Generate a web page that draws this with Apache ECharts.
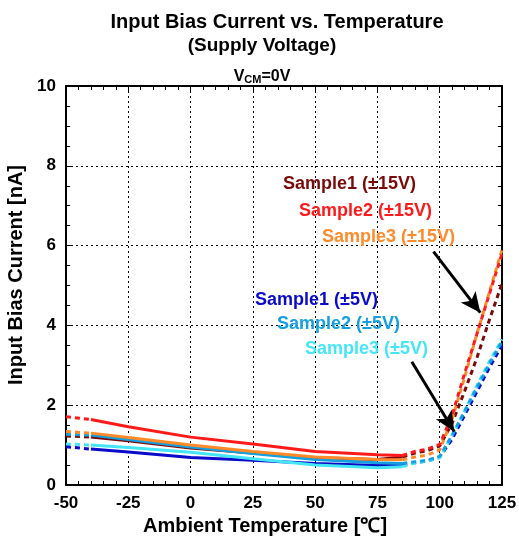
<!DOCTYPE html>
<html>
<head>
<meta charset="utf-8">
<script src="https://cdn.jsdelivr.net/npm/echarts@6/dist/echarts.min.js"></script>
<style>
  html, body { margin: 0; padding: 0; background: #fff; }
  #chart { width: 519px; height: 538px; }
</style>
</head>
<body>
<div id="chart"></div>
<script>
// temperatures (°C)
const tempsMid = [-40, -25, 0, 25, 50, 75, 85];
const tempsCold = [-50, -40];
const tempsHot = [85, 90, 95, 100, 105, 110, 115, 120, 125];

// input bias current (nA)
const s1_15_cold = [1.23, 1.20];
const s1_15_mid = [1.20, 1.11, 0.93, 0.80, 0.68, 0.64, 0.70];
const s1_15_hot = [0.70, 0.80, 0.86, 0.98, 1.55, 2.35, 3.20, 4.15, 5.05];

const s2_15_cold = [1.71, 1.64];
const s2_15_mid = [1.64, 1.46, 1.20, 1.03, 0.84, 0.76, 0.74];
const s2_15_hot = [0.74, 0.84, 0.90, 1.02, 1.75, 2.80, 3.80, 4.80, 5.80];

const s3_15_cold = [1.34, 1.30];
const s3_15_mid = [1.30, 1.19, 1.00, 0.84, 0.70, 0.64, 0.63];
const s3_15_hot = [0.63, 0.70, 0.75, 0.88, 1.65, 2.70, 3.80, 4.85, 5.90];

const s1_5_cold = [0.96, 0.90];
const s1_5_mid = [0.90, 0.83, 0.69, 0.62, 0.54, 0.49, 0.50];
const s1_5_hot = [0.50, 0.56, 0.60, 0.70, 1.15, 1.75, 2.35, 2.95, 3.50];

const s2_5_cold = [1.27, 1.25];
const s2_5_mid = [1.25, 1.14, 0.95, 0.79, 0.64, 0.56, 0.54];
const s2_5_hot = [0.54, 0.58, 0.62, 0.72, 1.25, 1.85, 2.45, 3.05, 3.60];

const s3_5_cold = [1.03, 1.00];
const s3_5_mid = [1.00, 0.94, 0.82, 0.66, 0.50, 0.43, 0.46];
const s3_5_hot = [0.46, 0.55, 0.60, 0.68, 1.25, 1.85, 2.50, 3.10, 3.65];

const xTicks = [-50, -25, 0, 25, 50, 75, 100, 125];
const yTicks = [0, 2, 4, 6, 8, 10];

// arrows: [from, to] in data coordinates
const arrow15 = [[97.5, 5.85], [116.3, 4.32]];
const arrow5 = [[88.8, 3.09], [105.8, 1.34]];

const samples = [
  { name: 'Sample1 (±15V)', color: '#7a0a0a', cold: s1_15_cold, mid: s1_15_mid, hot: s1_15_hot },
  { name: 'Sample1 (±5V)', color: '#0a0ac8', cold: s1_5_cold, mid: s1_5_mid, hot: s1_5_hot },
  { name: 'Sample3 (±5V)', color: '#44e6f6', cold: s3_5_cold, mid: s3_5_mid, hot: s3_5_hot },
  { name: 'Sample2 (±5V)', color: '#14a0e0', cold: s2_5_cold, mid: s2_5_mid, hot: s2_5_hot },
  { name: 'Sample3 (±15V)', color: '#ff8a2a', cold: s3_15_cold, mid: s3_15_mid, hot: s3_15_hot },
  { name: 'Sample2 (±15V)', color: '#ff1a1a', cold: s2_15_cold, mid: s2_15_mid, hot: s2_15_hot }
];

const zip = (xs, ys) => xs.map((x, i) => [x, ys[i]]);

const FONT = '"Liberation Sans", Arial, sans-serif';

const series = [];
samples.forEach((s) => {
  const base = { type: 'line', symbol: 'none', silent: true, z: 3 };
  series.push({ ...base, name: s.name, data: zip(tempsMid, s.mid),
    lineStyle: { color: s.color, width: 3 } });
  series.push({ ...base, data: zip(tempsCold, s.cold),
    lineStyle: { color: s.color, width: 3, type: [5, 4] } });
  series.push({ ...base, data: zip(tempsHot, s.hot),
    lineStyle: { color: s.color, width: 3, type: [5, 4] } });
});

// arrows
series.push({
  type: 'line', data: [], silent: true, z: 5,
  markLine: {
    silent: true,
    symbol: ['none', 'arrow'],
    symbolSize: [14, 20],
    label: { show: false },
    lineStyle: { color: '#000', width: 3, type: 'solid' },
    data: [
      [{ coord: arrow15[0] }, { coord: arrow15[1] }],
      [{ coord: arrow5[0] }, { coord: arrow5[1] }]
    ]
  }
});

// labels for each sample
const labelPos = {
  'Sample1 (±15V)': [283, 185],
  'Sample2 (±15V)': [299, 212],
  'Sample3 (±15V)': [322, 238],
  'Sample1 (±5V)': [255, 301],
  'Sample2 (±5V)': [277, 325],
  'Sample3 (±5V)': [305, 350]
};
const graphics = samples.map((s) => ({
  type: 'text',
  left: labelPos[s.name][0],
  top: labelPos[s.name][1] - 10,
  z: 10,
  style: { text: s.name, fill: s.color, font: 'bold 18px ' + FONT }
}));

const axisCommon = {
  type: 'value',
  axisLine: { show: true, onZero: false, lineStyle: { color: '#000', width: 2 } },
  axisTick: { show: true, inside: true, length: 6, lineStyle: { color: '#000', width: 1 } },
  minorTick: { show: true, length: 4, lineStyle: { color: '#000', width: 1 } },
  axisLabel: { color: '#000', fontWeight: 'bold', fontSize: 17, fontFamily: FONT }
};

const chart = echarts.init(document.getElementById('chart'), null, { renderer: 'canvas' });
chart.setOption({
  animation: false,
  backgroundColor: '#fff',
  title: [
    { text: 'Input Bias Current vs. Temperature', left: 272, top: 7, textAlign: 'center',
      textStyle: { fontSize: 20, fontWeight: 'bold', color: '#000', fontFamily: FONT } },
    { text: '(Supply Voltage)', left: 257, top: 31, textAlign: 'center',
      textStyle: { fontSize: 19, fontWeight: 'bold', color: '#000', fontFamily: FONT } },
    { text: '{v|V}{s|CM}{v|=0V}', left: 257, top: 64, textAlign: 'center',
      textStyle: { fontFamily: FONT, rich: {
        v: { fontSize: 16, fontWeight: 'bold', color: '#000', fontFamily: FONT, verticalAlign: 'bottom' },
        s: { fontSize: 11, fontWeight: 'bold', color: '#000', fontFamily: FONT, verticalAlign: 'bottom' }
      } } }
  ],
  grid: { left: 66, right: 17, top: 86, bottom: 53, show: false,
    containLabel: false, outerBoundsMode: 'none' },
  xAxis: [
    { ...axisCommon, position: 'bottom', min: -50, max: 125, interval: 25,
      minorTick: { ...axisCommon.minorTick, splitNumber: 5 },
      axisLabel: { ...axisCommon.axisLabel, margin: 10, customValues: xTicks },
      splitLine: { show: true, lineStyle: { color: '#000', width: 1, type: [2, 3] } },
      name: 'Ambient Temperature [℃]', nameLocation: 'middle', nameGap: 29,
      nameTextStyle: { fontSize: 20, fontWeight: 'bold', color: '#000', fontFamily: FONT,
        padding: [0, 38, 0, 0] } },
    { ...axisCommon, position: 'top', min: -50, max: 125, interval: 25,
      minorTick: { ...axisCommon.minorTick, splitNumber: 5 },
      axisLabel: { show: false }, splitLine: { show: false } }
  ],
  yAxis: [
    { ...axisCommon, position: 'left', min: 0, max: 10, interval: 2,
      minorTick: { ...axisCommon.minorTick, splitNumber: 4 },
      axisLabel: { ...axisCommon.axisLabel, margin: 10, customValues: yTicks },
      splitLine: { show: true, lineStyle: { color: '#000', width: 1, type: [2, 3] } },
      name: 'Input Bias Current [nA]', nameLocation: 'middle', nameGap: 33,
      nameTextStyle: { fontSize: 20, fontWeight: 'bold', color: '#000', fontFamily: FONT,
        padding: [0, 0, 0, 21] } },
    { ...axisCommon, position: 'right', min: 0, max: 10, interval: 2,
      minorTick: { ...axisCommon.minorTick, splitNumber: 4 },
      axisLabel: { show: false }, splitLine: { show: false } }
  ],
  graphic: graphics,
  series: series
});
</script>
</body>
</html>
